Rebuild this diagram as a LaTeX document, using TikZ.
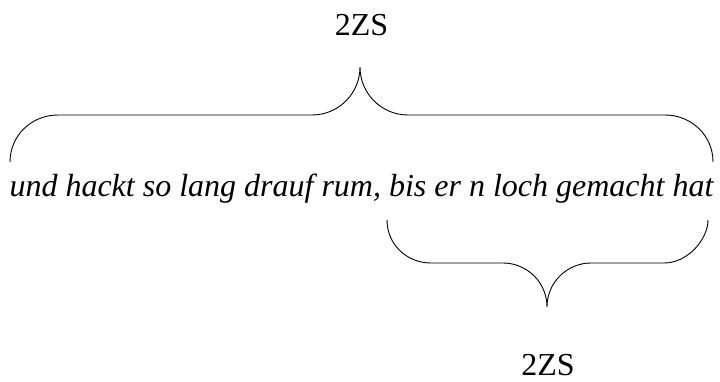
\documentclass[tikz,border=0pt]{standalone}
\usepackage{fontspec}
\setmainfont{Liberation Serif}
\begin{document}
\begin{tikzpicture}[x=1pt,y=-1pt,
  bracepath/.style={line width=0.9pt, black},
  labeltext/.style={inner sep=0pt, anchor=base, font=\fontsize{32}{38}\selectfont},
  maintext/.style={inner sep=0pt, anchor=base, font=\fontsize{32}{38}\selectfont\itshape}]
\useasboundingbox (0,0) rectangle (720,381);
\node[labeltext] (top) at (361.5,35.7) {2ZS};
\node[maintext] (sent) at (361.5,196.7) {und hackt so lang drauf rum, bis er n loch gemacht hat};
\node[labeltext] (bot) at (548,375) {2ZS};
% top brace
\coordinate (a1) at (10,162);
\coordinate (a2) at (58,115);
\coordinate (a3) at (312,115);
\coordinate (a4) at (360,67);
\coordinate (a5) at (408,115);
\coordinate (a6) at (665,115);
\coordinate (a7) at (713,162);
\draw[bracepath] (a1) .. controls (10,135.5) and (31.5,115) .. (a2) -- (a3)
  .. controls (338.5,115) and (360,93.5) .. (a4)
  .. controls (360,93.5) and (381.5,115) .. (a5) -- (a6)
  .. controls (691.5,115) and (713,135.5) .. (a7);
% bottom brace
\coordinate (b1) at (387,220);
\coordinate (b2) at (431,263);
\coordinate (b3) at (503,263);
\coordinate (b4) at (547,307);
\coordinate (b5) at (591,263);
\coordinate (b6) at (664,263);
\coordinate (b7) at (708,220);
\draw[bracepath] (b1) .. controls (387,244.3) and (406.7,263) .. (b2) -- (b3)
  .. controls (527.3,263) and (547,282.7) .. (b4)
  .. controls (547,282.7) and (566.7,263) .. (b5) -- (b6)
  .. controls (688.3,263) and (708,238.7) .. (b7);
\end{tikzpicture}
\end{document}
